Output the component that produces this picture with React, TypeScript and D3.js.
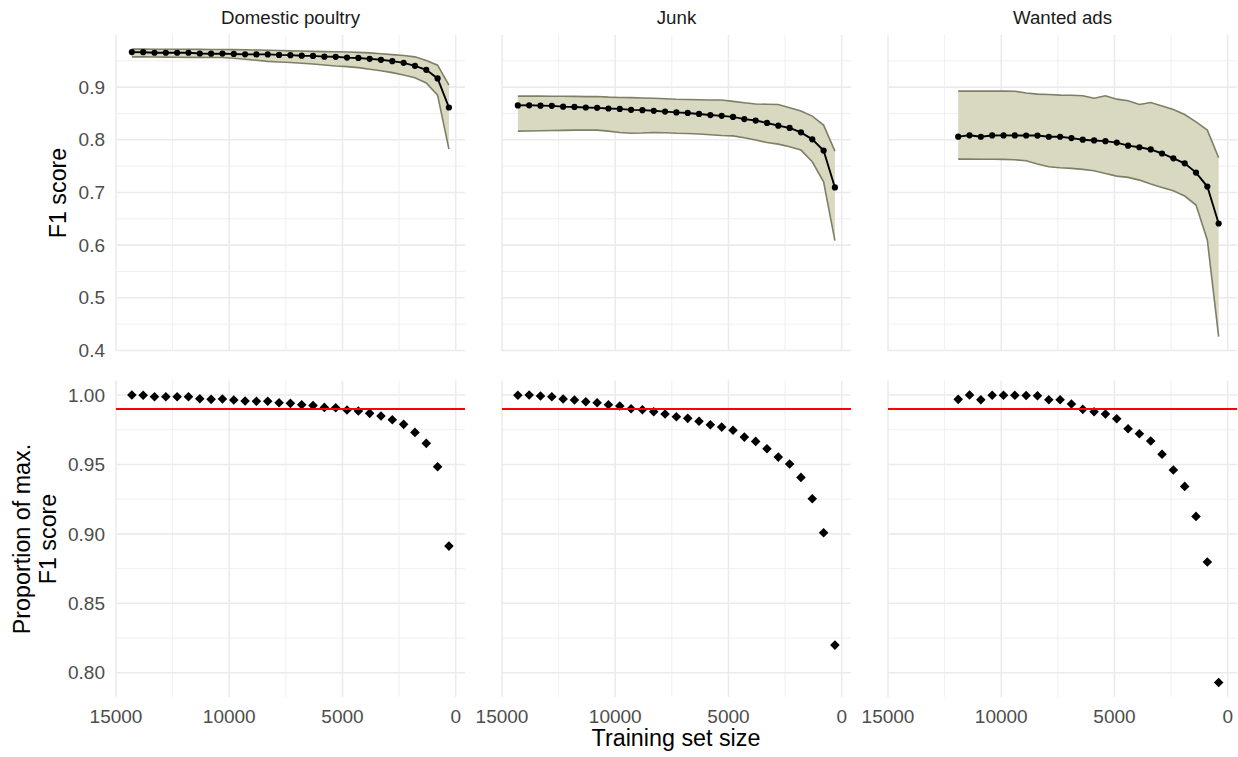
import React, { useEffect, useRef } from 'react';
import * as d3 from 'd3';

// Facet titles
const CATEGORIES = ['Domestic poultry', 'Junk', 'Wanted ads'];

// Training set sizes (x), largest first
const SIZES_POULTRY = [14300, 13800, 13300, 12800, 12300, 11800, 11300, 10800, 10300, 9800, 9300, 8800, 8300, 7800, 7300, 6800, 6300, 5800, 5300, 4800, 4300, 3800, 3300, 2800, 2300, 1800, 1300, 800, 300];
const SIZES_JUNK = [14300, 13800, 13300, 12800, 12300, 11800, 11300, 10800, 10300, 9800, 9300, 8800, 8300, 7800, 7300, 6800, 6300, 5800, 5300, 4800, 4300, 3800, 3300, 2800, 2300, 1800, 1300, 800, 300];
const SIZES_WANTED = [11900, 11400, 10900, 10400, 9900, 9400, 8900, 8400, 7900, 7400, 6900, 6400, 5900, 5400, 4900, 4400, 3900, 3400, 2900, 2400, 1900, 1400, 900, 400];

// Mean F1 score
const F1_POULTRY = [0.9665, 0.9663, 0.9653, 0.9653, 0.9653, 0.9653, 0.9639, 0.9635, 0.9637, 0.9630, 0.9623, 0.9622, 0.9622, 0.9612, 0.9607, 0.9597, 0.9593, 0.9579, 0.9576, 0.9561, 0.9554, 0.9537, 0.9519, 0.9493, 0.9461, 0.9405, 0.9329, 0.9165, 0.8613];
const F1_JUNK = [0.8653, 0.8655, 0.8649, 0.8645, 0.8630, 0.8624, 0.8613, 0.8607, 0.8594, 0.8587, 0.8569, 0.8563, 0.8551, 0.8536, 0.8520, 0.8510, 0.8491, 0.8470, 0.8455, 0.8435, 0.8393, 0.8366, 0.8320, 0.8268, 0.8225, 0.8142, 0.8009, 0.7796, 0.7096];
const F1_WANTED = [0.8060, 0.8085, 0.8058, 0.8083, 0.8084, 0.8083, 0.8082, 0.8081, 0.8058, 0.8058, 0.8032, 0.8002, 0.7988, 0.7974, 0.7947, 0.7889, 0.7859, 0.7817, 0.7740, 0.7648, 0.7553, 0.7378, 0.7112, 0.6411];

// Ribbon bounds
const F1_HIGH_POULTRY = [0.9721, 0.9721, 0.9720, 0.9720, 0.9719, 0.9718, 0.9717, 0.9716, 0.9715, 0.9712, 0.9709, 0.9705, 0.9700, 0.9695, 0.9689, 0.9685, 0.9680, 0.9675, 0.9672, 0.9668, 0.9660, 0.9650, 0.9635, 0.9618, 0.9600, 0.9575, 0.9505, 0.9417, 0.9038];
const F1_LOW_POULTRY = [0.9575, 0.9574, 0.9572, 0.9570, 0.9568, 0.9566, 0.9565, 0.9564, 0.9563, 0.9548, 0.9530, 0.9510, 0.9490, 0.9478, 0.9469, 0.9455, 0.9440, 0.9420, 0.9400, 0.9390, 0.9370, 0.9340, 0.9310, 0.9275, 0.9230, 0.9180, 0.9080, 0.8848, 0.7824];
const F1_HIGH_JUNK = [0.8829, 0.8829, 0.8829, 0.8828, 0.8826, 0.8824, 0.8820, 0.8822, 0.8810, 0.8804, 0.8800, 0.8795, 0.8790, 0.8780, 0.8770, 0.8765, 0.8760, 0.8757, 0.8755, 0.8730, 0.8705, 0.8680, 0.8675, 0.8670, 0.8610, 0.8545, 0.8450, 0.8279, 0.7786];
const F1_LOW_JUNK = [0.8165, 0.8168, 0.8172, 0.8176, 0.8180, 0.8183, 0.8184, 0.8184, 0.8165, 0.8140, 0.8125, 0.8130, 0.8140, 0.8135, 0.8125, 0.8120, 0.8110, 0.8095, 0.8082, 0.8075, 0.8040, 0.7995, 0.7950, 0.7918, 0.7867, 0.7805, 0.7583, 0.7203, 0.6084];
const F1_HIGH_WANTED = [0.8924, 0.8924, 0.8924, 0.8924, 0.8924, 0.8922, 0.8890, 0.8867, 0.8860, 0.8848, 0.8845, 0.8836, 0.8790, 0.8836, 0.8772, 0.8741, 0.8671, 0.8709, 0.8640, 0.8576, 0.8481, 0.8340, 0.8184, 0.7658];
const F1_LOW_WANTED = [0.7634, 0.7634, 0.7632, 0.7630, 0.7628, 0.7620, 0.7602, 0.7539, 0.7488, 0.7469, 0.7457, 0.7438, 0.7412, 0.7362, 0.7311, 0.7286, 0.7235, 0.7159, 0.7096, 0.7032, 0.6932, 0.6761, 0.6097, 0.4262];

// Proportion of max. F1 score
const PROP_POULTRY = [1.0000, 0.9998, 0.9988, 0.9988, 0.9988, 0.9988, 0.9973, 0.9969, 0.9971, 0.9964, 0.9957, 0.9955, 0.9955, 0.9945, 0.9940, 0.9930, 0.9925, 0.9911, 0.9908, 0.9892, 0.9885, 0.9868, 0.9849, 0.9822, 0.9789, 0.9731, 0.9652, 0.9483, 0.8912];
const PROP_JUNK = [0.9998, 1.0000, 0.9993, 0.9988, 0.9971, 0.9964, 0.9952, 0.9945, 0.9930, 0.9921, 0.9901, 0.9894, 0.9880, 0.9863, 0.9844, 0.9832, 0.9811, 0.9786, 0.9769, 0.9746, 0.9697, 0.9666, 0.9613, 0.9553, 0.9503, 0.9407, 0.9253, 0.9008, 0.8199];
const PROP_WANTED = [0.9969, 1.0000, 0.9966, 0.9998, 0.9999, 0.9998, 0.9997, 0.9995, 0.9966, 0.9966, 0.9935, 0.9897, 0.9880, 0.9863, 0.9829, 0.9757, 0.9721, 0.9669, 0.9573, 0.9460, 0.9342, 0.9126, 0.8797, 0.7930];

const THRESHOLD = 0.99;

// Axis ticks
const X_TICKS = [15000, 10000, 5000, 0];
const X_MINOR = [12500, 7500, 2500];
const F1_TICKS = [0.4, 0.5, 0.6, 0.7, 0.8, 0.9];
const F1_MINOR = [0.45, 0.55, 0.65, 0.75, 0.85, 0.95];
const PROP_TICKS = [0.8, 0.85, 0.9, 0.95, 1.0];
const PROP_MINOR = [0.825, 0.875, 0.925, 0.975];

const FONT = '"Liberation Sans", Arial, sans-serif';

function App() {
  const ref = useRef<SVGSVGElement>(null);

  useEffect(() => {
    const svg = d3.select(ref.current);
    svg.selectAll('*').remove();

    const panels = [
      { name: CATEGORIES[0], sizes: SIZES_POULTRY, f1: F1_POULTRY, lo: F1_LOW_POULTRY, hi: F1_HIGH_POULTRY, prop: PROP_POULTRY },
      { name: CATEGORIES[1], sizes: SIZES_JUNK, f1: F1_JUNK, lo: F1_LOW_JUNK, hi: F1_HIGH_JUNK, prop: PROP_JUNK },
      { name: CATEGORIES[2], sizes: SIZES_WANTED, f1: F1_WANTED, lo: F1_LOW_WANTED, hi: F1_HIGH_WANTED, prop: PROP_WANTED }
    ];

    const panelLeft = [116, 502, 888];
    const panelW = 349;

    const yTop = d3.scaleLinear().domain([0.399, 0.999]).range([351, 35]);
    const yBot = d3.scaleLinear().domain([0.7826, 1.0104]).range([696.9, 380.6]);

    const grid = '#ebebeb';

    panels.forEach((p, k) => {
      const x = d3.scaleLinear().domain([15000, -410]).range([panelLeft[k], panelLeft[k] + panelW]);
      const [x0, x1] = x.range();

      [{ y: yTop, ticks: F1_TICKS, minor: F1_MINOR }, { y: yBot, ticks: PROP_TICKS, minor: PROP_MINOR }].forEach(row => {
        const [yb, yt] = row.y.range();
        const g = svg.append('g');
        // minor grid
        g.selectAll(null).data(X_MINOR).enter().append('line')
          .attr('x1', d => x(d)).attr('x2', d => x(d)).attr('y1', yt).attr('y2', yb)
          .attr('stroke', grid).attr('stroke-width', 0.8);
        g.selectAll(null).data(row.minor).enter().append('line')
          .attr('x1', x0).attr('x2', x1).attr('y1', d => row.y(d)).attr('y2', d => row.y(d))
          .attr('stroke', grid).attr('stroke-width', 0.8);
        // major grid
        g.selectAll(null).data(X_TICKS).enter().append('line')
          .attr('x1', d => x(d)).attr('x2', d => x(d)).attr('y1', yt).attr('y2', yb)
          .attr('stroke', grid).attr('stroke-width', 1.6);
        g.selectAll(null).data(row.ticks).enter().append('line')
          .attr('x1', x0).attr('x2', x1).attr('y1', d => row.y(d)).attr('y2', d => row.y(d))
          .attr('stroke', grid).attr('stroke-width', 1.6);
      });

      // facet title
      svg.append('text')
        .attr('x', (x0 + x1) / 2).attr('y', 24)
        .attr('text-anchor', 'middle')
        .style('font-family', FONT).style('font-size', '18.7px').style('fill', '#1a1a1a')
        .text(p.name);

      // top: ribbon + mean line
      const rows = p.sizes.map((s, i) => ({ s, f1: p.f1[i], lo: p.lo[i], hi: p.hi[i], prop: p.prop[i] }));
      const area = d3.area<any>().x(d => x(d.s)).y0(d => yTop(d.lo)).y1(d => yTop(d.hi));
      svg.append('path').datum(rows).attr('d', area).attr('fill', '#d9d9c2');
      ['lo', 'hi'].forEach(key => {
        svg.append('path').datum(rows)
          .attr('d', d3.line<any>().x(d => x(d.s)).y(d => yTop(d[key])))
          .attr('fill', 'none').attr('stroke', '#7f7f68').attr('stroke-width', 1.6);
      });
      svg.append('path').datum(rows)
        .attr('d', d3.line<any>().x(d => x(d.s)).y(d => yTop(d.f1)))
        .attr('fill', 'none').attr('stroke', '#000').attr('stroke-width', 1.9);
      svg.append('g').selectAll('circle').data(rows).enter().append('circle')
        .attr('cx', d => x(d.s)).attr('cy', d => yTop(d.f1)).attr('r', 3.1).attr('fill', '#000');

      // bottom: proportion diamonds + threshold
      const diamond = d3.symbol().type(d3.symbolSquare).size(46);
      svg.append('g').selectAll('path').data(rows).enter().append('path')
        .attr('d', diamond)
        .attr('transform', d => `translate(${x(d.s)},${yBot(d.prop)}) rotate(45)`)
        .attr('fill', '#000');
      svg.append('line')
        .attr('x1', x0).attr('x2', x1).attr('y1', yBot(THRESHOLD)).attr('y2', yBot(THRESHOLD))
        .attr('stroke', '#ff0000').attr('stroke-width', 2);

      // x tick labels
      svg.append('g').selectAll('text').data(X_TICKS).enter().append('text')
        .attr('x', d => x(d)).attr('y', 722.5).attr('text-anchor', 'middle')
        .style('font-family', FONT).style('font-size', '19px').style('fill', '#4d4d4d')
        .text(d => String(d));
    });

    // y tick labels
    svg.append('g').selectAll('text').data(F1_TICKS).enter().append('text')
      .attr('x', 105).attr('y', d => yTop(d)).attr('dy', '0.35em').attr('text-anchor', 'end')
      .style('font-family', FONT).style('font-size', '19px').style('fill', '#4d4d4d')
      .text(d => d3.format('.1f')(d));
    svg.append('g').selectAll('text').data(PROP_TICKS).enter().append('text')
      .attr('x', 105).attr('y', d => yBot(d)).attr('dy', '0.35em').attr('text-anchor', 'end')
      .style('font-family', FONT).style('font-size', '19px').style('fill', '#4d4d4d')
      .text(d => d3.format('.2f')(d));

    // axis titles
    svg.append('text')
      .attr('transform', `translate(66,193) rotate(-90)`)
      .attr('text-anchor', 'middle')
      .style('font-family', FONT).style('font-size', '23.3px').style('fill', '#000')
      .text('F1 score');
    const pt = svg.append('text')
      .attr('transform', `translate(30,539) rotate(-90)`)
      .attr('text-anchor', 'middle')
      .style('font-family', FONT).style('font-size', '23.3px').style('fill', '#000');
    pt.append('tspan').attr('x', 0).attr('dy', 0).text('Proportion of max.');
    pt.append('tspan').attr('x', 0).attr('dy', 25.5).text('F1 score');
    svg.append('text')
      .attr('x', 676).attr('y', 746).attr('text-anchor', 'middle')
      .style('font-family', FONT).style('font-size', '23.3px').style('fill', '#000')
      .text('Training set size');
  }, []);

  return (
    <svg
      ref={ref}
      width={1238}
      height={757}
      style={{ position: 'absolute', left: 0, top: 0, background: '#fff' }}
    />
  );
}

export default App;
